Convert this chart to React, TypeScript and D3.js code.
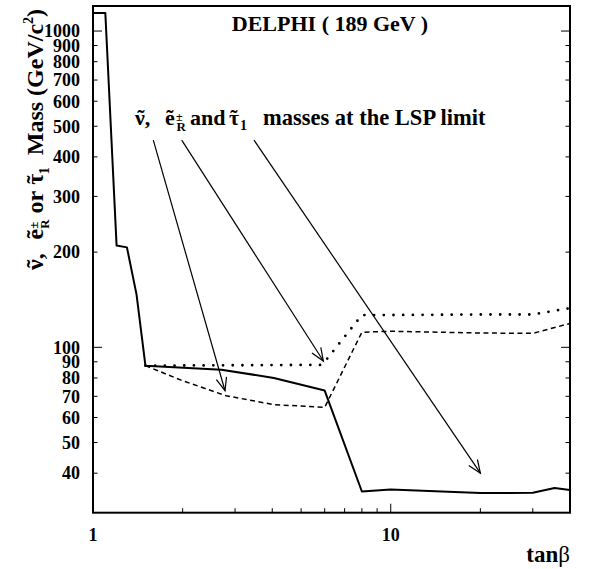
import React from "react";
import * as d3 from "d3";

// ---- data ----
const stauTanb = [1, 1.1, 1.2, 1.3, 1.4, 1.5, 2.7, 4.05, 6, 8, 10, 20, 30, 35.5, 40];
const stauMass = [1140, 1140, 210, 207, 147, 87.5, 85, 80, 73, 35, 35.5, 34.6, 34.7, 35.9, 35.4];

const sneuTanb = [1.5, 5.8, 6, 8, 10, 20, 30, 40];
const sneuMass = [87.5, 88, 90, 126.5, 126.5, 127, 127, 133];

const selTanb = [1.5, 2, 2.8, 4.05, 6, 8, 10, 20, 30, 40];
const selMass = [87.5, 78.4, 70.3, 65.9, 64.6, 111.6, 112.4, 111, 110.7, 119];

const arrowFromTanb = [1.594, 1.986, 3.474];
const arrowFromMass = [452, 452, 452];
const arrowToTanb = [2.776, 5.94, 20];
const arrowToMass = [72.9, 90.5, 40];

const yTickLabels = [40, 50, 60, 70, 80, 90, 100, 200, 300, 400, 500, 600, 700, 800, 900, 1000];
const xTickLabels = [1, 10];
const yMinorTicks = [40, 50, 60, 70, 80, 90, 100, 200, 300, 400, 500, 600, 700, 800, 900, 1000];
const xMinorTicks = [2, 3, 4, 5, 6, 7, 8, 9, 10, 20, 30];

const W = 596;
const H = 569;
const L = 93, R = 570, T = 6, B = 512.7;
const FONT = "'Liberation Serif', 'Times New Roman', serif";
const TILDE = "\u02DC";

export default function App() {
  const x = d3.scaleLog().domain([1, 40]).range([L, R]);
  const y = d3.scaleLog().domain([30, 1200]).range([B, T]);

  const line = d3
    .line<[number, number]>()
    .x((d) => x(d[0]))
    .y((d) => y(d[1]));

  const stau = line(stauTanb.map((t, i) => [t, stauMass[i]]))!;
  const sneu = line(sneuTanb.map((t, i) => [t, sneuMass[i]]))!;
  const sel = line(selTanb.map((t, i) => [t, selMass[i]]))!;

  const arrows = arrowFromTanb.map((t, i) => {
    const x1 = x(t), y1 = y(arrowFromMass[i]);
    const x2 = x(arrowToTanb[i]), y2 = y(arrowToMass[i]);
    const ang = Math.atan2(y2 - y1, x2 - x1);
    const hl = 14, ha = (22 * Math.PI) / 180;
    const b1 = [x2 - hl * Math.cos(ang - ha), y2 - hl * Math.sin(ang - ha)];
    const b2 = [x2 - hl * Math.cos(ang + ha), y2 - hl * Math.sin(ang + ha)];
    return { x1, y1, x2, y2, b1, b2 };
  });

  const isMajorY = (v: number) => v === 100 || v === 1000;
  const txt = { fontFamily: FONT, fontWeight: "bold" as const };

  // rotated y-label layout (screen y where each piece starts, reading upward)
  const fs = 24;
  const sNu = 270;
  const sE = sNu - 0.77 * fs - 0.5 * fs;
  const sPm = sE - 0.444 * fs;
  const sOr = sPm - 0.722 * 13 - 0.25 * fs;
  const sTau = sOr - 0.944 * fs - 0.25 * fs;
  const sOne = sTau - 0.44 * fs;
  const sMass = sOne - 0.5 * 14 - 0.5 * fs;
  const sUnit = sMass - 2.222 * fs - 0.25 * fs;

  return (
    <svg width={W} height={H} style={{ position: "absolute", left: 0, top: 0, background: "#fff" }}>
      <rect x={0} y={0} width={W} height={H} fill="#fff" />
      {/* frame */}
      <rect x={L} y={T} width={R - L} height={B - T} fill="none" stroke="#000" strokeWidth={2} />

      {/* y ticks */}
      {yMinorTicks.map((v) => {
        const len = isMajorY(v) ? 9 : 4.5;
        return (
          <g key={"yt" + v}>
            <line x1={L} x2={L + len} y1={y(v)} y2={y(v)} stroke="#000" strokeWidth={1} />
            <line x1={R} x2={R - len} y1={y(v)} y2={y(v)} stroke="#000" strokeWidth={1} />
          </g>
        );
      })}
      {/* x ticks */}
      {xMinorTicks.map((v) => {
        const len = v === 10 ? 9 : 4.5;
        return <line key={"xt" + v} x1={x(v)} x2={x(v)} y1={B} y2={B - len} stroke="#000" strokeWidth={1} />;
      })}

      {/* y tick labels */}
      {yTickLabels.map((v) => (
        <text key={"yl" + v} x={80} y={y(v)} dy="0.35em" textAnchor="end" {...txt} fontSize={18}>
          {v}
        </text>
      ))}
      {/* x tick labels */}
      {xTickLabels.map((v) => (
        <text key={"xl" + v} x={x(v)} y={541} textAnchor="middle" {...txt} fontSize={18}>
          {v}
        </text>
      ))}

      {/* curves */}
      <path d={stau} fill="none" stroke="#000" strokeWidth={2} strokeLinejoin="round" />
      <path d={sel} fill="none" stroke="#000" strokeWidth={1.5} strokeDasharray="5 3.5" />
      <path d={sneu} fill="none" stroke="#000" strokeWidth={2.8} strokeDasharray="0 9.7" strokeLinecap="round" />

      {/* arrows */}
      {arrows.map((a, i) => (
        <g key={"ar" + i} stroke="#000" strokeWidth={1.2} fill="none">
          <line x1={a.x1} y1={a.y1} x2={a.x2} y2={a.y2} />
          <polyline points={`${a.b1[0]},${a.b1[1]} ${a.x2},${a.y2} ${a.b2[0]},${a.b2[1]}`} />
        </g>
      ))}

      {/* title */}
      <text x={330} y={31} textAnchor="middle" {...txt} fontSize={22}>
        DELPHI ( 189 GeV )
      </text>

      {/* annotation */}
      <g {...txt} fontSize={22}>
        <text x={135} y={125}>{"\u03BD,"}</text>
        <text x={141} y={125} textAnchor="middle">{TILDE}</text>
        <text x={165} y={125}>e</text>
        <text x={170} y={125} textAnchor="middle">{TILDE}</text>
        <text x={176} y={121} fontSize={12}>±</text>
        <text x={176.5} y={131} fontSize={13}>R</text>
        <text x={190} y={125}>and</text>
        <text x={229} y={125}>{"\u03C4"}</text>
        <text x={234} y={125} textAnchor="middle">{TILDE}</text>
        <text x={240} y={130} fontSize={14}>1</text>
        <text x={263} y={125} fontSize={22.5}>masses at the LSP limit</text>
      </g>

      {/* y-axis label (rotated) */}
      <g transform="translate(43,0) rotate(-90)" {...txt} fontSize={fs}>
        <text x={-sNu} y={0}>{"\u03BD,"}</text>
        <text x={-sNu + 0.26 * fs} y={0} textAnchor="middle">{TILDE}</text>
        <text x={-sE} y={0}>e</text>
        <text x={-sE + 0.222 * fs} y={0} textAnchor="middle">{TILDE}</text>
        <text x={-sPm} y={-5} fontSize={13}>±</text>
        <text x={-sPm} y={6} fontSize={13}>R</text>
        <text x={-sOr} y={0}>or</text>
        <text x={-sTau} y={0}>{"\u03C4"}</text>
        <text x={-sTau + 0.22 * fs} y={0} textAnchor="middle">{TILDE}</text>
        <text x={-sOne} y={6} fontSize={14}>1</text>
        <text x={-sMass} y={0}>Mass</text>
        <text x={-sUnit} y={0}>
          (GeV/c<tspan fontSize={14} dy={-10}>2</tspan>
          <tspan dy={10}>)</tspan>
        </text>
      </g>

      {/* x-axis label */}
      <text x={570} y={562} textAnchor="end" {...txt} fontSize={23}>
        tan<tspan fontWeight="normal">β</tspan>
      </text>
    </svg>
  );
}
